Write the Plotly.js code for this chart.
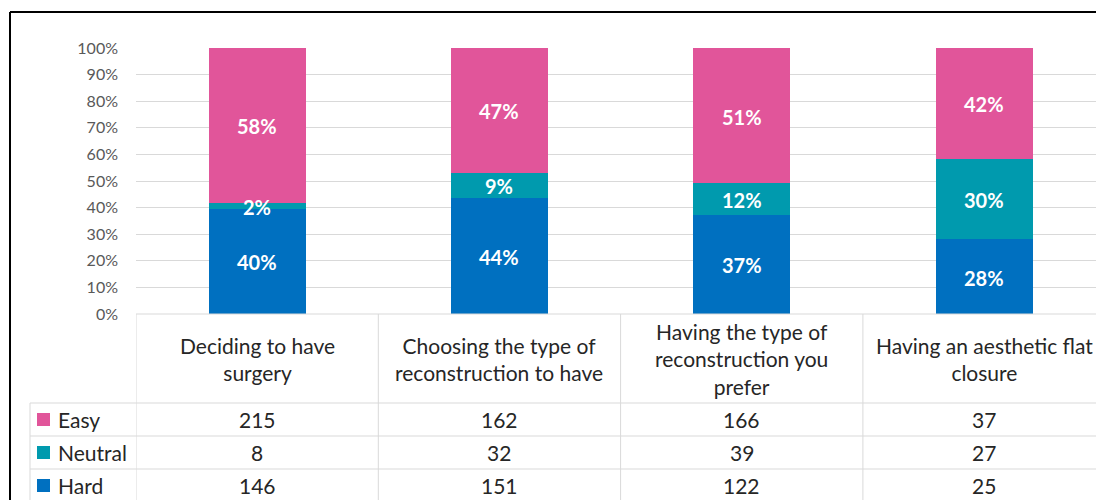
<!DOCTYPE html>
<html>
<head>
<meta charset="utf-8">
<script src="https://cdn.plot.ly/plotly-3.0.1.min.js"></script>
<style>
  html, body { margin: 0; padding: 0; background: #ffffff; }
  #chart { width: 1096px; height: 500px; }
</style>
</head>
<body>
<div id="chart"></div>
<script>
// ---- data ----
const categories = [
  "Deciding to have<br>surgery",
  "Choosing the type of<br>reconstruction to have",
  "Having the type of<br>reconstruction you<br>prefer",
  "Having an aesthetic flat<br>closure"
];
const seriesNames = ["Easy", "Neutral", "Hard"];
const easyCounts = [215, 162, 166, 37];
const neutralCounts = [8, 32, 39, 27];
const hardCounts = [146, 151, 122, 25];
const easyPct = ["58%", "47%", "51%", "42%"];
const neutralPct = ["2%", "9%", "12%", "30%"];
const hardPct = ["40%", "44%", "37%", "28%"];
const yTickVals = [0, 10, 20, 30, 40, 50, 60, 70, 80, 90, 100];
const yTickText = ["0%", "10%", "20%", "30%", "40%", "50%", "60%", "70%", "80%", "90%", "100%"];

// ---- style ----
const colors = { Easy: "#E1559A", Neutral: "#009AAE", Hard: "#0070C0" };
const FONT = "Lato, 'Open Sans', sans-serif";
const W = 1096, H = 500, L = 136, R = 1096, T = 48, B = 314;
const px = x => (x - L) / (R - L);
const py = y => (B - y) / (B - T);

const xIdx = categories.map((c, i) => i);

function barTrace(name, counts) {
  return {
    type: "bar", name: name, x: xIdx, y: counts,
    marker: { color: colors[name], line: { width: 0 } },
    hoverinfo: "skip"
  };
}

// stacked order: Hard (bottom), Neutral, Easy (top)
const stackOrder = [
  { name: "Hard", counts: hardCounts, labels: hardPct },
  { name: "Neutral", counts: neutralCounts, labels: neutralPct },
  { name: "Easy", counts: easyCounts, labels: easyPct }
];
const totals = xIdx.map(i => hardCounts[i] + neutralCounts[i] + easyCounts[i]);

const data = stackOrder.map(s => barTrace(s.name, s.counts));

const shapes = [];
const annotations = [];

// data labels at each segment centre (drawn above all bars)
const cum = xIdx.map(() => 0);
stackOrder.forEach(s => {
  xIdx.forEach(i => {
    const share = s.counts[i] / totals[i] * 100;
    const m = cum[i] + share / 2;
    cum[i] += share;
    annotations.push({ xref: "x", yref: "y", x: i, y: m, text: s.labels[i], showarrow: false,
      xanchor: "center", yanchor: "middle", yshift: -1,
      font: { family: FONT, size: 20, color: "#ffffff", weight: "bold" } });
  });
});

// ---- table (shapes + annotations) ----
const lineCol = "#D9D9D9";
const rowBounds = [403, 436, 469, 502];
const tableBottom = 520;

shapes.push({ type: "line", xref: "paper", yref: "paper", x0: 0, x1: px(1110), y0: 0, y1: 0, line: { color: lineCol, width: 1 } });
for (let k = 0; k < 3; k++) {
  shapes.push({ type: "line", xref: "paper", yref: "paper", x0: px(30), x1: px(1110), y0: py(rowBounds[k]), y1: py(rowBounds[k]), line: { color: lineCol, width: 1 } });
}
for (let k = 0; k <= categories.length; k++) {
  shapes.push({ type: "line", xref: "x", yref: "paper", x0: k - 0.5, x1: k - 0.5, y0: 0, y1: py(tableBottom), line: { color: lineCol, width: 1 } });
}
shapes.push({ type: "line", xref: "paper", yref: "paper", x0: px(30), x1: px(30), y0: py(403), y1: py(tableBottom), line: { color: lineCol, width: 1 } });

categories.forEach((c, i) => {
  annotations.push({ xref: "x", yref: "paper", x: i, y: py(358.5), text: c, showarrow: false,
    xanchor: "center", yanchor: "middle", align: "center",
    font: { family: FONT, size: 21, color: "#262626" } });
});

const rowCounts = [easyCounts, neutralCounts, hardCounts];
seriesNames.forEach((s, r) => {
  const yc = (rowBounds[r] + rowBounds[r + 1]) / 2;
  shapes.push({ type: "rect", xref: "paper", yref: "paper", x0: px(37), x1: px(50), y0: py(yc - 6.5), y1: py(yc + 6.5), fillcolor: colors[s], line: { width: 0 } });
  annotations.push({ xref: "paper", yref: "paper", x: px(56), y: py(yc), text: s, showarrow: false,
    xanchor: "left", yanchor: "middle", font: { family: FONT, size: 21, color: "#262626" } });
  rowCounts[r].forEach((v, i) => {
    annotations.push({ xref: "x", yref: "paper", x: i, y: py(yc), text: String(v), showarrow: false,
      xanchor: "center", yanchor: "middle", font: { family: FONT, size: 21, color: "#262626" } });
  });
});

shapes.push({ type: "line", xref: "paper", yref: "paper", x0: px(10), x1: px(1110), y0: py(12), y1: py(12), line: { color: "#000000", width: 2 } });
shapes.push({ type: "line", xref: "paper", yref: "paper", x0: px(10), x1: px(10), y0: py(12), y1: py(520), line: { color: "#000000", width: 2 } });

const layout = {
  width: W, height: H,
  margin: { l: L, r: W - R, t: T, b: H - B, pad: 0 },
  paper_bgcolor: "#ffffff", plot_bgcolor: "#ffffff",
  barmode: "stack", barnorm: "percent", bargap: 0.6,
  showlegend: false,
  xaxis: { range: [-0.5, -0.5 + (R - L) / 242.3], showticklabels: false, showgrid: false, zeroline: false, showline: false, ticks: "", fixedrange: true },
  yaxis: { range: [0, 100], tickvals: yTickVals, ticktext: yTickText, showgrid: true, gridcolor: lineCol, gridwidth: 1,
    zeroline: false, showline: false, ticks: "", ticklabelstandoff: 17,
    tickfont: { family: FONT, size: 16, color: "#595959" }, fixedrange: true },
  shapes: shapes,
  annotations: annotations,
  font: { family: FONT }
};

Plotly.newPlot("chart", data, layout, { displayModeBar: false, staticPlot: true });
</script>
</body>
</html>
